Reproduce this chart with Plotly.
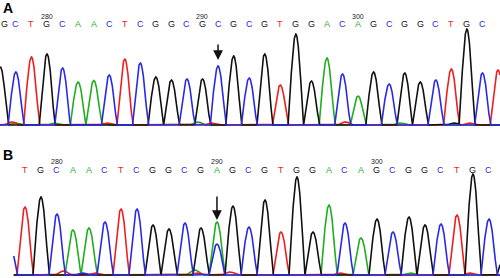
import numpy as np
import plotly.graph_objects as go

# ---------------- data ----------------
# Panel A: base index, called base, peak height (signal units)
a_pos = list(range(277, 310))
a_base = list("GCTGCAACTCGGCGCGCGTGGACAGCGGCTGCT")
a_height = [58, 53, 68, 71, 57, 43, 44, 50, 66, 62, 48, 45, 46, 46, 59, 69, 47, 71,
            40, 91, 44, 67, 51, 29, 53, 41, 52, 43, 45, 56, 96, 52, 55]
a_labels = {280: "280", 290: "290", 300: "300"}
a_called = list(range(277, 309))
a_noise = [(277.75, "T", 3), (278.0, "A", 2), (280.5, "A", 2), (283.4, "A", 2),
           (283.9, "T", 2), (289.7, "A", 3), (290.6, "T", 2), (299.2, "T", 3),
           (302.7, "A", 2), (306.2, "G", 2), (307.2, "T", 2)]
a_mutation = 291

# Panel B
b_pos = list(range(277, 309))
b_base = list("CTGCAACTCGGCGAGCGTGGACAGCGGCTGCG")
b_height = [35, 68, 78, 61, 45, 47, 53, 66, 66, 50, 46, 52, 47, 53, 69, 48, 75,
            43, 98, 43, 70, 52, 37, 56, 43, 58, 50, 51, 60, 101, 56, 20]
b_secondary = [(290, "C", 31)]
b_labels = {280: "280", 290: "290", 300: "300"}
b_called = list(range(278, 308))
b_noise = [(280.4, "T", 4), (281.6, "C", 2), (282.4, "T", 2), (288.6, "A", 5),
           (288.75, "T", 2), (290.8, "T", 3), (297.7, "T", 2), (302.1, "A", 2),
           (305.8, "T", 2)]
b_mutation = 290
b_start = 277.3

colors = {"G": "#111111", "C": "#2a2ae6", "T": "#f01e1e", "A": "#1fae1f"}
order = ["A", "T", "G", "C"]
half_w = 0.5   # half width of a peak, in bases

fig = go.Figure()


def channel(x, peaks, base):
    y = np.zeros_like(x)
    for p, b, h in peaks:
        if b == base:
            d = np.abs(x - p) / half_w
            y += np.where(d < 1, h * np.cos(np.pi / 2 * np.clip(d, 0, 1)) ** 1.15, 0)
    return y


def add_panel(pos, bases, heights, extra, noise, xr, start, xa, ya):
    peaks = [(p, b, h) for p, b, h in zip(pos, bases, heights)] + list(extra) + list(noise)
    x = np.arange(max(start, xr[0]), xr[1] + 0.01, 0.01)
    for b in order:
        fig.add_trace(go.Scatter(x=x, y=channel(x, peaks, b), mode="lines",
                                 line=dict(color=colors[b], width=1.6),
                                 xaxis=xa, yaxis=ya, hoverinfo="skip",
                                 showlegend=False))


a_xr = [276.98, 309.13]
b_xr = [276.44, 307.69]
add_panel(a_pos, a_base, a_height, [], a_noise, a_xr, a_xr[0], "x", "y")
add_panel(b_pos, b_base, b_height, b_secondary, b_noise, b_xr, b_start, "x2", "y2")

ann = []
font = "Liberation Sans, Arial, sans-serif"


def add_letters(pos, bases, called, labels, xref, xr, yl, yn):
    for p, b in zip(pos, bases):
        if p in called:
            edge = p - xr[0] < 0.25
            ann.append(dict(x=xr[0] if edge else p, y=yl, xref=xref, yref="paper",
                            text=b, showarrow=False,
                            font=dict(family=font, size=9, color=colors[b]),
                            xanchor="left" if edge else "center", yanchor="middle",
                            borderpad=0))
    for p, t in labels.items():
        ann.append(dict(x=p, y=yn, xref=xref, yref="paper", text=t, showarrow=False,
                        font=dict(family=font, size=7, color="#222222"),
                        xanchor="center", yanchor="middle"))


add_letters(a_pos, a_base, a_called, a_labels, "x", a_xr, 0.9137, 0.9424)
add_letters(b_pos, b_base, b_called, b_labels, "x2", b_xr, 0.3885, 0.4173)

a_h = dict(zip(a_pos, a_height))
b_h = dict(zip(b_pos, b_height))
ann.append(dict(x=a_mutation, y=a_h[a_mutation] + 6, xref="x", yref="y", text="",
                showarrow=True, arrowhead=2, arrowsize=1.3, arrowwidth=1.5,
                arrowcolor="#111111", ax=0, ay=-17))
ann.append(dict(x=b_mutation, y=b_h[b_mutation] + 2, xref="x2", yref="y2", text="",
                showarrow=True, arrowhead=2, arrowsize=1.3, arrowwidth=1.5,
                arrowcolor="#111111", ax=0, ay=-25))

ann.append(dict(x=0.002, y=0.971, xref="paper", yref="paper", text="<b>A</b>",
                showarrow=False, font=dict(family=font, size=14, color="black"),
                xanchor="left", yanchor="middle"))
ann.append(dict(x=0.002, y=0.4425, xref="paper", yref="paper", text="<b>B</b>",
                showarrow=False, font=dict(family=font, size=14, color="black"),
                xanchor="left", yanchor="middle"))

hidden = dict(visible=False, showgrid=False, zeroline=False, fixedrange=True)
fig.update_layout(
    width=500, height=278, margin=dict(l=0, r=0, t=0, b=0),
    paper_bgcolor="white", plot_bgcolor="white",
    xaxis=dict(domain=[0, 1], range=a_xr, anchor="y", **hidden),
    yaxis=dict(domain=[0.5324, 0.9281], range=[-5, 105], anchor="x", **hidden),
    xaxis2=dict(domain=[0, 1], range=b_xr, anchor="y2", **hidden),
    yaxis2=dict(domain=[0, 0.42446], range=[-3, 115], anchor="x2", **hidden),
    annotations=ann, hovermode=False,
)

fig.write_html("out.html", config={"displayModeBar": False})
